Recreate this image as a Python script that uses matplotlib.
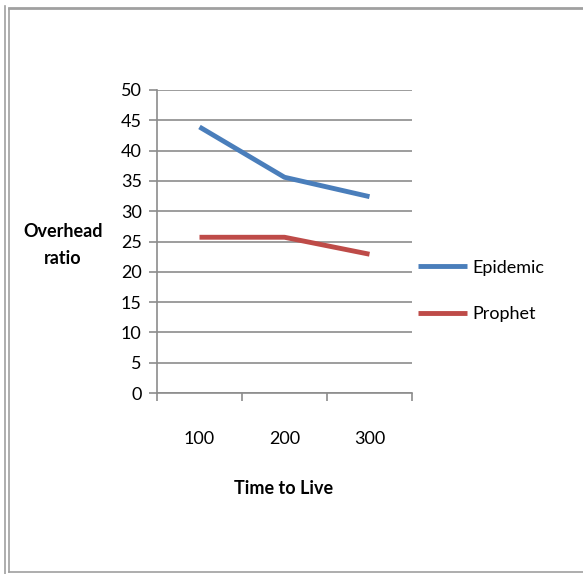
import matplotlib
matplotlib.use("Agg")
import matplotlib.pyplot as plt
from matplotlib.lines import Line2D

# data
ttl = ["100", "200", "300"]
epidemic = [43.9, 35.6, 32.4]
prophet = [25.7, 25.7, 22.9]

plt.rcParams["font.family"] = ["Lato", "DejaVu Sans"]
fs = 13

W, H = 583, 574
fig = plt.figure(figsize=(W / 100, H / 100), dpi=100)
ax = fig.add_axes([157 / W, (H - 393) / H, 255 / W, 303 / H])

x = range(len(ttl))
ax.plot(x, epidemic, color="#4A7EBB", lw=3.5, label="Epidemic", solid_capstyle="butt")
ax.plot(x, prophet, color="#BE4B48", lw=3.5, label="Prophet", solid_capstyle="butt")

ax.set_xlim(-0.5, 2.5)
ax.set_ylim(0, 50)
ax.set_yticks(range(0, 51, 5))
ax.yaxis.grid(True, color="#8c8c8c", lw=1.2)
ax.set_axisbelow(True)

# category boundary ticks on x axis, labels in the middle
ax.set_xticks([-0.5, 0.5, 1.5, 2.5])
ax.set_xticklabels([])
ax.set_xticks(list(x), minor=True)
ax.set_xticklabels(ttl, minor=True, fontsize=fs)
ax.tick_params(axis="x", which="minor", length=0, pad=27)
ax.tick_params(axis="x", which="major", length=6, width=1.2, color="#8c8c8c")
ax.tick_params(axis="y", length=6, width=1.2, color="#8c8c8c", labelsize=fs, pad=5)

for s in ["top", "right"]:
    ax.spines[s].set_visible(False)
for s in ["left", "bottom"]:
    ax.spines[s].set_color("#8c8c8c")
    ax.spines[s].set_linewidth(1.2)

fig.text(284 / W, 1 - 488 / H, "Time to Live", ha="center", va="center",
         fontsize=fs, fontweight="bold")
fig.text(63 / W, 1 - 245 / H, "Overhead\nratio", ha="center", va="center",
         fontsize=fs, fontweight="bold", linespacing=1.75)

ax.legend(loc="center left", bbox_to_anchor=(402 / W, 1 - 291 / H),
          bbox_transform=fig.transFigure, frameon=False, fontsize=fs,
          handlelength=2.7, handletextpad=0.3, labelspacing=1.7)

# outer frame like the screenshot border
frame_col = "#a0a0a0"
fig.add_artist(Line2D([5 / W, 5 / W], [0, 1 - 6 / H], color=frame_col, lw=1.2))
fig.add_artist(Line2D([9 / W, 9 / W], [1 - 572 / H, 1 - 9 / H], color=frame_col, lw=1.2))
fig.add_artist(Line2D([9 / W, 1], [1 - 8 / H, 1 - 8 / H], color=frame_col, lw=2))
fig.add_artist(Line2D([9 / W, 1], [1 - 572 / H, 1 - 572 / H], color=frame_col, lw=1.2))

fig.savefig("out.png", dpi=100)
